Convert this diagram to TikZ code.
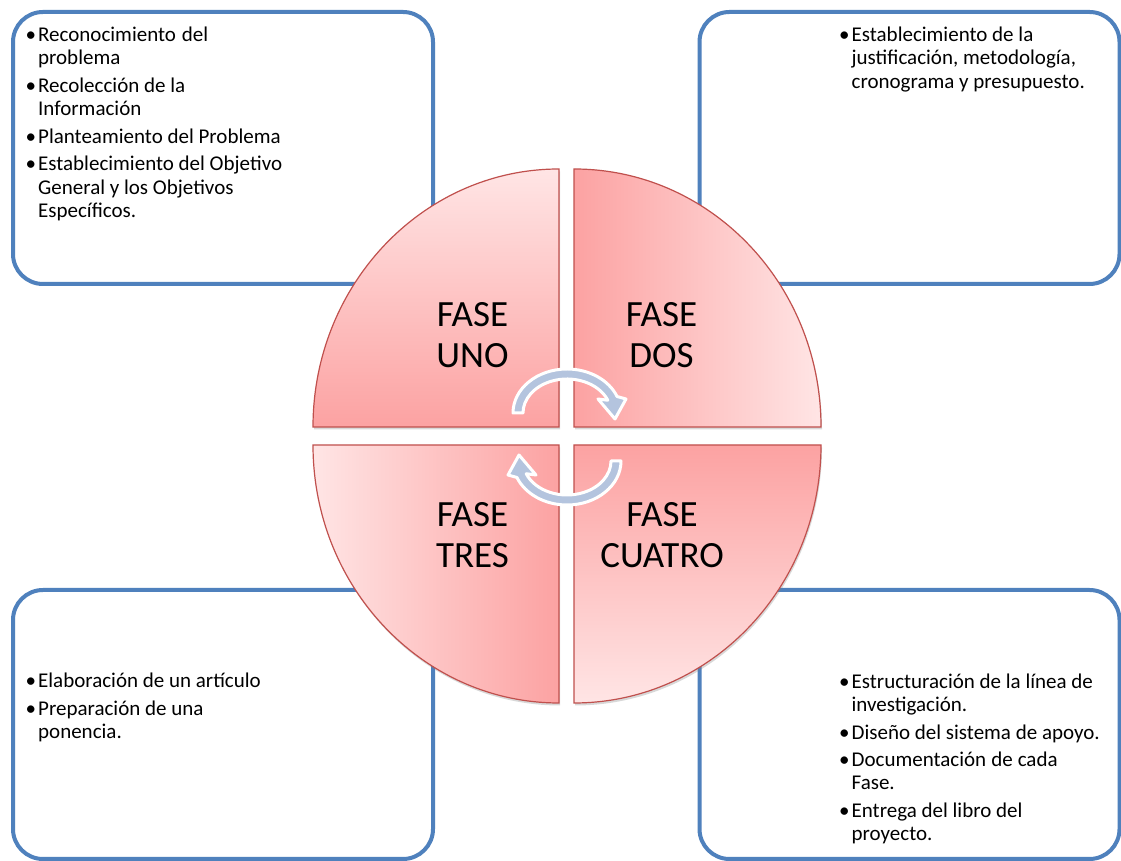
\documentclass[tikz,border=0pt]{standalone}
\usepackage{fontspec}
\setmainfont{Carlito}
\usetikzlibrary{positioning,shadows}

\definecolor{azulcaja}{RGB}{79,129,189}
\definecolor{bordefase}{RGB}{192,80,77}
\definecolor{faseoscuro}{RGB}{252,162,162}
\definecolor{faseclaro}{RGB}{255,229,229}
\definecolor{azulflecha}{RGB}{180,196,222}

\tikzset{
  caja/.style={draw=azulcaja, line width=4pt, rounded corners=30pt, fill=white,
    minimum width=420pt, minimum height=272pt, inner sep=0pt},
  cuarto/.style={draw=bordefase, line width=1.2pt,
    drop shadow={shadow xshift=1pt, shadow yshift=-2.5pt, opacity=.3}},
  fase/.style={font=\fontsize{37}{41}\selectfont, align=center, inner sep=0pt},
  lista/.style={font=\fontsize{21}{23.3}\selectfont, inner sep=0pt, anchor=base west},
  flechaborde/.style={fill=azulflecha, draw=white, line width=3pt, line join=round},
  pics/flechacirc/.style={code={
    \path[flechaborde] (180:54 and 44)
      arc[start angle=180, end angle=22, x radius=54, y radius=44]
      -- (59,14) -- (48,-6) -- (31,14) -- (22:44 and 34)
      arc[start angle=22, end angle=180, x radius=44, y radius=34] -- cycle;
  }}
}

\begin{document}
\begin{tikzpicture}[x=1pt, y=1pt]

  \useasboundingbox[fill=white] (0,0) rectangle (1121,861);

  % cajas de texto
  \node[caja] (caja1) at (223,713) {};
  \node[caja] (caja2) at (909.5,713) {};
  \node[caja, minimum height=269pt] (caja3) at (223,136.5) {};
  \node[caja, minimum height=269pt] (caja4) at (909.5,136.5) {};

  % los cuatro cuartos del circulo
  \path[cuarto, top color=faseclaro, bottom color=faseoscuro]
    (559,434) -- (313,434) arc[start angle=180, end angle=90, x radius=246, y radius=258] -- cycle;
  \path[cuarto, left color=faseoscuro, right color=faseclaro]
    (574,434) -- (574,692) arc[start angle=90, end angle=0, x radius=247, y radius=258] -- cycle;
  \path[cuarto, left color=faseclaro, right color=faseoscuro]
    (559,416) -- (313,416) arc[start angle=180, end angle=270, x radius=246, y radius=258] -- cycle;
  \path[cuarto, top color=faseoscuro, bottom color=faseclaro]
    (574,416) -- (821,416) arc[start angle=0, end angle=-90, x radius=247, y radius=258] -- cycle;

  % flechas circulares
  \pic at (567,448) {flechacirc};
  \pic[rotate=180] at (567,400) {flechacirc};

  \node[fase] (uno) at (472.5,526) {FASE\\UNO};
  \node[fase] (dos) at (661.5,526) {FASE\\DOS};
  \node[fase] (tres) at (472.5,325.5) {FASE\\TRES};
  \node[fase] (cuatro) at (662,325.5) {FASE\\CUATRO};

  % listas
  \node[lista] (lista1) at (25.5,819.3) {\begin{tabular}[t]{@{}l@{\hspace{2pt}}l@{}}
    \textbullet & \makebox[170pt][s]{Reconocimiento del}\\
                & problema\\[4.2pt]
    \textbullet & Recolección de la\\
                & Información\\[4.2pt]
    \textbullet & Planteamiento del Problema\\[4.2pt]
    \textbullet & Establecimiento del Objetivo\\
                & General y los Objetivos\\
                & Específicos.
  \end{tabular}};
  \node[lista] (lista2) at (839,819.3) {\begin{tabular}[t]{@{}l@{\hspace{2pt}}l@{}}
    \textbullet & Establecimiento de la\\
                & justificación, metodología,\\
                & cronograma y presupuesto.
  \end{tabular}};
  \node[lista] (lista3) at (25.5,173) {\begin{tabular}[t]{@{}l@{\hspace{2pt}}l@{}}
    \textbullet & Elaboración de un artículo\\[4.2pt]
    \textbullet & Preparación de una\\
                & ponencia.
  \end{tabular}};
  \node[lista] (lista4) at (839,172.7) {\begin{tabular}[t]{@{}l@{\hspace{2pt}}l@{}}
    \textbullet & Estructuración de la línea de\\
                & investigación.\\[4.2pt]
    \textbullet & Diseño del sistema de apoyo.\\[4.2pt]
    \textbullet & \makebox[206pt][s]{Documentación de cada}\\
                & Fase.\\[4.2pt]
    \textbullet & Entrega del libro del\\
                & proyecto.
  \end{tabular}};

\end{tikzpicture}
\end{document}
